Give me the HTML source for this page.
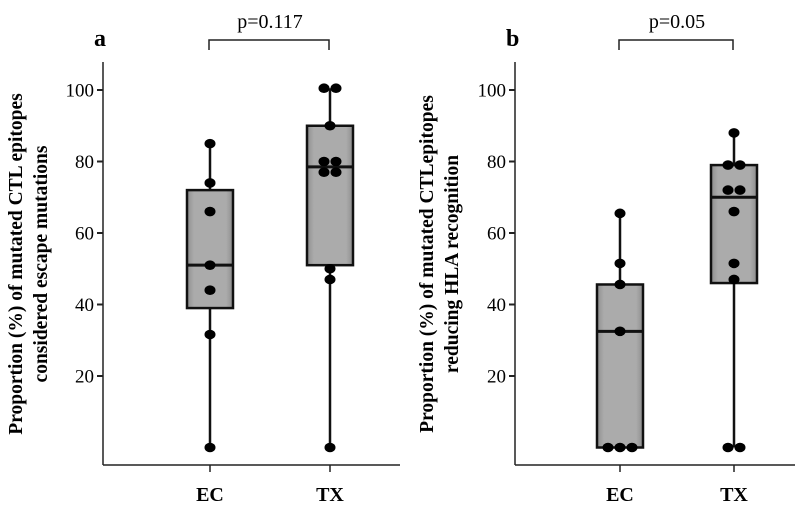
<!DOCTYPE html>
<html><head><meta charset="utf-8"><style>
body{margin:0;background:#fff}
svg{display:block;font-family:"Liberation Serif",serif}
</style></head><body>
<svg id="chart" width="800" height="505" viewBox="0 0 800 505" xmlns="http://www.w3.org/2000/svg">
<defs>
<linearGradient id="boxg" x1="0" x2="1" y1="0" y2="0">
<stop offset="0" stop-color="#8e8e8e"/><stop offset="0.15" stop-color="#ababab"/><stop offset="0.85" stop-color="#ababab"/><stop offset="1" stop-color="#8e8e8e"/>
</linearGradient>
</defs>
<g id="panels"></g>
</svg>
<script>
const categories = ["EC", "TX"];
const yTicks = [20, 40, 60, 80, 100];
// panel a
const aECPoints = [85, 74, 66, 51, 44, 31.6, 0];
const aTXPoints = [100.5, 100.5, 90, 80, 80, 77, 77, 50, 47, 0];
const aECBox = [0, 39, 51, 72, 85];   // min, q1, median, q3, max
const aTXBox = [0, 51, 78.5, 90, 100.5];
// panel b
const bECPoints = [65.5, 51.5, 45.6, 32.5, 0, 0, 0];
const bTXPoints = [88, 79, 79, 72, 72, 66, 51.5, 47, 0, 0];
const bECBox = [0, 0, 32.5, 45.6, 65.5];
const bTXBox = [0, 46, 70, 79, 88];
const pValues = ["p=0.117", "p=0.05"];
const panelLetters = ["a", "b"];

const NS = "http://www.w3.org/2000/svg";
const root = document.getElementById("panels");
function mk(tag, attrs, parent, text){
  const e = document.createElementNS(NS, tag);
  for (const k in attrs) e.setAttribute(k, attrs[k]);
  if (text !== undefined) e.textContent = text;
  parent.appendChild(e);
  return e;
}
const yScale = v => 447.5 - v * 3.575;

const panels = [
  {axisX:103, xs:[210,330], boxes:[aECBox,aTXBox], pts:[aECPoints,aTXPoints], label:["Proportion (%) of mutated CTL epitopes","considered escape mutations"], lx:[22,47], right:400},
  {axisX:515, xs:[620,734], boxes:[bECBox,bTXBox], pts:[bECPoints,bTXPoints], label:["Proportion (%) of mutated CTLepitopes","reducing HLA recognition"], lx:[433,458], right:795}
];

panels.forEach((p, pi) => {
  const g = mk("g", {}, root);
  
  
  const ya = mk("line", {x1:p.axisX, y1:62, x2:p.axisX, y2:465, stroke:"#222", "stroke-width":1.5}, g);
  
  
  const xa = mk("line", {x1:p.axisX, y1:465, x2:p.right, y2:465, stroke:"#222", "stroke-width":1.5}, g);
  
  
  yTicks.forEach(t => {
    const y = yScale(t);
    mk("line", {x1:p.axisX-6, y1:y, x2:p.axisX, y2:y, stroke:"#222", "stroke-width":2}, g);
    const tl = mk("text", {x:p.axisX-9, y:y+6.5, "text-anchor":"end", "font-size":19}, g, t);
    
    
  });
  p.label.forEach((line, li) => {
    const t = mk("text", {x:p.lx[li], y:264, transform:`rotate(-90 ${p.lx[li]} 264)`, "text-anchor":"middle", "font-size":19.5, "font-weight":"bold"}, g, line);
    
    
  });
  const lt = mk("text", {x:p.axisX-9, y:46, "font-size":24, "font-weight":"bold"}, g, panelLetters[pi]);
  
  
  const br = mk("path", {d:`M${p.xs[0]-1},50 V40 H${p.xs[1]-1} V50`, fill:"none", stroke:"#222", "stroke-width":1.5}, g);
  
  
  const pv = mk("text", {x:(p.xs[0]+p.xs[1])/2, y:28, "text-anchor":"middle", "font-size":20}, g, pValues[pi]);
  
  
  categories.forEach((c, ci) => {
    const x = p.xs[ci];
    mk("line", {x1:x, y1:465, x2:x, y2:472, stroke:"#222", "stroke-width":1.5}, g);
    const xl = mk("text", {x:x, y:501, "text-anchor":"middle", "font-size":20, "font-weight":"bold"}, g, c);
    
    
    const b = p.boxes[ci];
    const wh = mk("line", {x1:x, y1:yScale(b[0]), x2:x, y2:yScale(b[4]), stroke:"#111", "stroke-width":2.5}, g);
    
    
    const bx = mk("rect", {x:x-23, y:yScale(b[3]), width:46, height:yScale(b[1])-yScale(b[3]), fill:"url(#boxg)", stroke:"#111", "stroke-width":2.5}, g);
    
    
    const md = mk("line", {x1:x-23, y1:yScale(b[2]), x2:x+23, y2:yScale(b[2]), stroke:"#111", "stroke-width":3}, g);
    
    
    const vals = p.pts[ci];
    const counts = {};
    vals.forEach(v => counts[v] = (counts[v]||0) + 1);
    const seen = {};
    vals.forEach(v => {
      const n = counts[v], k = seen[v] = (seen[v]||0);
      seen[v]++;
      const dx = (k - (n-1)/2) * 12;
      const pt = mk("ellipse", {cx:x+dx, cy:yScale(v), rx:5.5, ry:4.8, fill:"#000"}, g);
      
      
    });
  });
});
</script>
</body></html>
